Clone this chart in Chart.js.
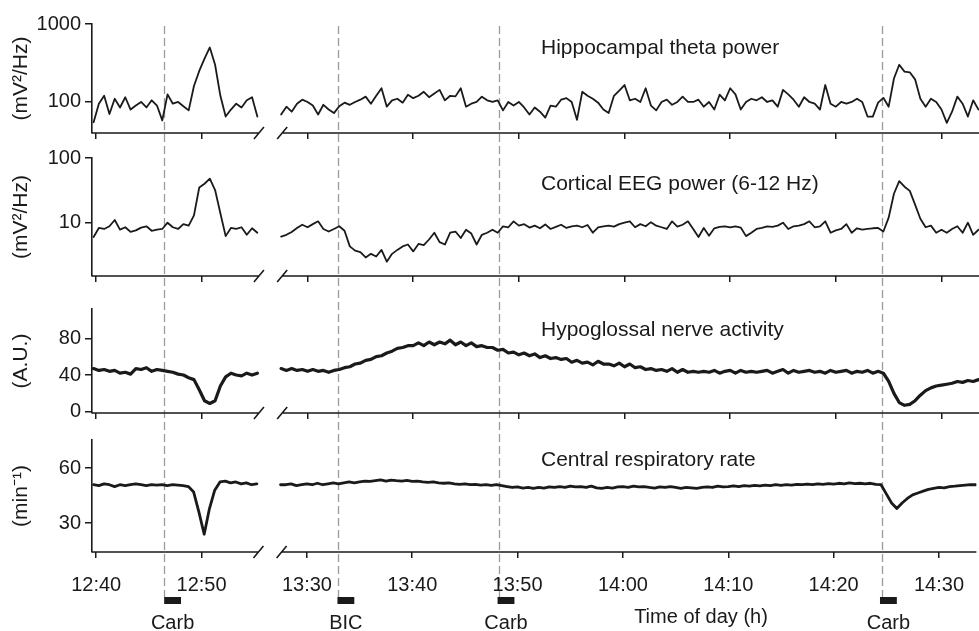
<!DOCTYPE html>
<html>
<head>
<meta charset="utf-8">
<script src="https://cdn.jsdelivr.net/npm/chart.js@4.4.1/dist/chart.umd.min.js"></script>
<style>
  body { margin: 0; background: #fff; }
  #wrap { position: relative; width: 979px; height: 631px; }
  #wrap canvas { position: absolute; left: 0; top: 0; }
</style>
</head>
<body>
<div id="wrap">
  <canvas id="theta" width="979" height="631"></canvas>
  <canvas id="eeg" width="979" height="631"></canvas>
  <canvas id="hypo" width="979" height="631"></canvas>
  <canvas id="resp" width="979" height="631"></canvas>
</div>
<script>
// ---- time base ----
const leftStart = '12:39:45';   // first sample of the first run
const rightStart = '13:27:30';  // first sample of the second run
const sampleStep = 0.5;         // minutes between samples
const breakShift = 30;          // minutes cut out of the axis
const axisStart = '12:39:36';
const axisEnd = '14:33:33';
const breakFrom = '12:55:24';
const breakTo = '13:27:36';
const timeTicks = ['12:40', '12:50', '13:30', '13:40', '13:50', '14:00', '14:10', '14:20', '14:30'];

// drug applications
const drugTimes = ['12:46:27', '13:32:54', '13:48:06', '14:24:24'];
const drugNames = ['Carb', 'BIC', 'Carb', 'Carb'];
const drugMinutes = 1.6;

// ---- series ----
const thetaLeft = [55, 95, 120, 70, 110, 85, 115, 80, 90, 100, 85, 105, 90, 58, 125, 95, 100, 88, 78, 160,
  250, 360, 500, 300, 120, 65, 80, 95, 85, 105, 115, 65];
const thetaRight = [69, 87, 75, 95, 107, 100, 90, 69, 92, 80,
  72, 88, 98, 92, 100, 107, 117, 95, 120, 150,
  87, 105, 110, 98, 124, 112, 120, 135, 115, 128,
  143, 105, 120, 118, 150, 87, 95, 100, 117, 105,
  100, 105, 78, 100, 90, 100, 85, 69, 85, 75,
  63, 90, 87, 107, 112, 100, 59, 135, 120, 110,
  98, 80, 72, 120, 140, 165, 105, 110, 100, 150,
  90, 78, 100, 107, 92, 100, 117, 100, 100, 107,
  87, 100, 80, 124, 105, 150, 125, 80, 100, 110,
  105, 115, 100, 105, 87, 143, 125, 107, 87, 115,
  100, 95, 80, 165, 95, 87, 100, 95, 100, 110,
  100, 65, 65, 98, 113, 87, 200, 300, 245, 240,
  195, 110, 87, 110, 100, 80, 54, 75, 117, 95,
  65, 105, 80];

const eegLeft = [6, 8.3, 8, 8.8, 11, 7.8, 8.5, 7.2, 7.6, 8.4, 8.8, 7.5, 7.8, 8, 10, 8.5, 8, 9.5, 9, 13,
  35, 40, 48, 32, 14, 6.2, 8.3, 8, 8.5, 6.5, 8.2, 7];
const eegRight = [6.1, 6.5, 7.2, 8.3, 9.3, 8.5, 9.5, 10.5, 8.0, 7.3,
  8, 8.8, 7.5, 4.3, 3.7, 3.5, 2.9, 3.3, 3.0, 3.8,
  2.5, 3.3, 3.8, 4.3, 4.6, 3.6, 4.7, 4.5, 5.5, 7.0,
  5.0, 4.6, 7.0, 7.3, 5.8, 7.8, 6.8, 4.6, 6.5, 7.0,
  7.8, 7.0, 8.8, 8.5, 10.5, 9.0, 9.5, 8.4, 9.0, 8.2,
  9.4, 8.0, 8.6, 9.3, 8.3, 8.8, 9.0, 8.5, 9.2, 7.0,
  8.5, 8.8, 9.0, 8.7, 9.5, 10.0, 10.5, 8.5, 9.5, 8.8,
  10.2, 9.0, 8.5, 8.0, 10.5, 8.7, 9.3, 10.5, 8.0, 6.0,
  8.3, 6.3, 8.2, 8.6, 8.8, 8.5, 8.8, 8.4, 6.2, 7.0,
  8.0, 8.3, 8.8, 8.6, 9.0, 10.0, 8.0, 8.8, 9.0, 9.5,
  10.5, 8.5, 8.8, 10.5, 7.0, 7.6, 8.0, 9.5, 7.0, 8.2,
  7.8, 8.0, 8.2, 8.3, 7.3, 12, 28, 44, 36, 31,
  19, 11.5, 8.5, 9.0, 7.0, 7.8, 7.0, 8.0, 8.8, 7.0,
  10.0, 6.5, 7.8];

const hypoLeft = [47, 45, 46, 44, 45, 42, 43, 41, 47, 46, 48, 44, 46, 45, 44, 43, 41, 40, 37, 35,
  24, 12, 9, 12, 28, 38, 42, 40, 39, 42, 40, 42];
const hypoRight = [47, 45, 47, 45, 46, 44, 46, 44, 45, 43,
  45, 46, 48, 49, 52, 53, 56, 57, 60, 61,
  64, 66, 69, 70, 72, 72, 75, 72, 76, 73,
  76, 74, 78, 73, 76, 72, 75, 71, 72, 70,
  70, 67, 68, 64, 65, 62, 64, 61, 63, 59,
  61, 58, 59, 57, 58, 54, 56, 53, 54, 51,
  55, 52, 52, 50, 53, 49, 52, 48, 49, 46,
  47, 45, 46, 44, 47, 43, 46, 43, 44, 43,
  44, 43, 45, 42, 44, 45, 42, 45, 43, 44,
  43, 44, 45, 42, 44, 46, 42, 45, 43, 44,
  45, 43, 44, 42, 45, 43, 44, 45, 42, 44,
  43, 45, 42, 44, 42, 33, 20, 10, 7, 8,
  12, 18, 23, 26, 28, 29, 30, 31, 33, 32,
  34, 33, 35];

const respLeft = [51, 50.5, 51.5, 51, 50, 51, 50.5, 51, 51.5, 51, 50.5, 51, 50.8, 51, 50.5, 51, 50.8, 50.5, 50, 47,
  36, 24, 38, 48, 52.5, 53, 52, 52.5, 51.5, 52, 51, 51.5];
const respRight = [51, 51, 51.5, 50.5, 51, 51.5, 51, 51.8, 51, 51.5, 52,
  51.5, 52, 52.5, 52, 52.5, 53, 52.8, 53.2, 53.6, 53,
  53.5, 53.2, 53, 53.4, 52.8, 53, 52.6, 52.3, 52.5, 52,
  51.8, 52, 51.5, 51.2, 51.5, 51, 51.2, 50.8, 51, 50.6,
  51, 50.5, 50, 49.5, 49.8, 49.2, 49.5, 49, 49.6, 49.2,
  49.8, 49.5, 50, 49.6, 50.2, 49.8, 50, 49.5, 50.2, 49.3,
  49, 49.5, 49.2, 49.8, 50, 49.6, 50.2, 49.8, 50, 49.5,
  49.2, 49.8, 49.5, 50, 49.5, 49, 49.6, 49.3, 49, 49.5,
  49.8, 49.5, 50.2, 49.8, 50, 50.4, 50, 50.5, 50.2, 50.6,
  50.4, 50.8, 50.5, 51, 50.6, 51, 50.8, 51.2, 51, 51.3,
  51, 51.5, 51.2, 51.6, 51.3, 51.8, 51.5, 52, 51.6, 51.8,
  51.5, 51.8, 51.2, 51,
  46, 41, 38, 41, 43.5, 45.5, 46.5, 47.5, 48.5, 49, 49.5, 49.3, 50, 50.2, 50.5, 50.8, 51, 51];

// ---- helpers ----
const ink = '#1a1a1a';
const fontFamily = "'Liberation Sans', Arial, Helvetica, sans-serif";
Chart.defaults.font.family = fontFamily;
Chart.defaults.color = ink;

function toMin(s) {
  const [h, m, sec] = s.split(':').map(Number);
  return h * 60 + m + (sec || 0) / 60;
}
// position on the broken axis: the second run is pulled left by breakShift
function axisPos(t) {
  return t >= toMin('13:00') ? t - breakShift : t;
}
function series(vals, start) {
  const t0 = toMin(start);
  return vals.map((v, i) => ({ x: axisPos(t0 + i * sampleStep), y: v }));
}

const panels = [
  { id: 'theta', title: 'Hippocampal theta power', unit: '(mV²/Hz)', type: 'logarithmic',
    min: 40, max: 1000, ticks: [100, 1000], left: thetaLeft, right: thetaRight, lw: 1.8,
    top: 24, bottom: 133, titleY: 54 },
  { id: 'eeg', title: 'Cortical EEG power (6-12 Hz)', unit: '(mV²/Hz)', type: 'logarithmic',
    min: 1.5, max: 100, ticks: [10, 100], left: eegLeft, right: eegRight, lw: 1.8,
    top: 158, bottom: 276, titleY: 190 },
  { id: 'hypo', title: 'Hypoglossal nerve activity', unit: '(A.U.)', type: 'linear',
    min: -1.4, max: 112, ticks: [0, 40, 80], left: hypoLeft, right: hypoRight, lw: 3.2,
    top: 309, bottom: 413, titleY: 336 },
  { id: 'resp', title: 'Central respiratory rate', unit: '(min⁻¹)', type: 'linear',
    min: 14.3, max: 75.4, ticks: [30, 60], left: respLeft, right: respRight, lw: 2.8,
    top: 440, bottom: 552, titleY: 466 }
];

// x axis line drawn in two pieces with break marks
const brokenAxis = {
  id: 'brokenAxis',
  afterDraw(chart) {
    const { ctx, chartArea, scales: { x } } = chart;
    const y = chartArea.bottom;
    const a = x.getPixelForValue(axisPos(toMin(breakFrom)));
    const b = x.getPixelForValue(axisPos(toMin(breakTo)));
    ctx.save();
    ctx.strokeStyle = ink;
    ctx.lineWidth = 1.6;
    ctx.beginPath();
    ctx.moveTo(chartArea.left, y); ctx.lineTo(a, y);
    ctx.moveTo(b, y); ctx.lineTo(chartArea.right, y);
    for (const p of [a, b]) { ctx.moveTo(p - 5, y + 6); ctx.lineTo(p + 5, y - 6); }
    ctx.stroke();
    ctx.restore();
  }
};

// dashed drug markers across all panels (drawn on the lowest canvas)
const drugLines = {
  id: 'drugLines',
  beforeDatasetsDraw(chart) {
    const { ctx, scales: { x } } = chart;
    ctx.save();
    ctx.strokeStyle = '#9a9a9a';
    ctx.lineWidth = 1.3;
    ctx.setLineDash([8, 4]);
    drugTimes.forEach(t => {
      const px = Math.round(x.getPixelForValue(axisPos(toMin(t)))) + 0.5;
      ctx.beginPath();
      ctx.moveTo(px, 26);
      ctx.lineTo(px, 597);
      ctx.stroke();
    });
    ctx.restore();
  }
};

// drug bars, drug names and the axis title under the bottom panel
const drugBars = {
  id: 'drugBars',
  afterDraw(chart) {
    const { ctx, scales: { x } } = chart;
    ctx.save();
    ctx.fillStyle = ink;
    ctx.font = '20px ' + fontFamily;
    ctx.textAlign = 'center';
    ctx.textBaseline = 'alphabetic';
    drugTimes.forEach((t, i) => {
      const t0 = axisPos(toMin(t));
      const x0 = x.getPixelForValue(t0);
      const x1 = x.getPixelForValue(t0 + drugMinutes);
      ctx.fillRect(x0, 597, x1 - x0, 7);
      ctx.fillText(drugNames[i], (x0 + x1) / 2, 629);
    });
    ctx.fillText('Time of day (h)', 701, 623);
    ctx.restore();
  }
};

function panelTitle(text, y) {
  return {
    id: 'panelTitle',
    afterDraw(chart) {
      const { ctx } = chart;
      ctx.save();
      ctx.fillStyle = ink;
      ctx.font = '21px ' + fontFamily;
      ctx.textAlign = 'left';
      ctx.textBaseline = 'alphabetic';
      ctx.fillText(text, 541, y);
      ctx.restore();
    }
  };
}

panels.forEach((p, k) => {
  const last = k === panels.length - 1;
  const xHeight = 40;
  const lineStyle = { borderColor: ink, borderWidth: p.lw, pointRadius: 0, tension: 0,
    borderJoinStyle: 'round', borderCapStyle: 'round', fill: false };
  const plugins = [brokenAxis, panelTitle(p.title, p.titleY)];
  if (k === 0) plugins.push(drugLines);
  if (last) plugins.push(drugBars);

  new Chart(document.getElementById(p.id), {
    type: 'line',
    data: {
      datasets: [
        Object.assign({ data: series(p.left, leftStart) }, lineStyle),
        Object.assign({ data: series(p.right, rightStart) }, lineStyle)
      ]
    },
    options: {
      responsive: false,
      animation: false,
      events: [],
      layout: {
        autoPadding: false,
        padding: { top: p.top, bottom: 631 - p.bottom - xHeight, left: 0, right: 0 }
      },
      plugins: { legend: { display: false }, tooltip: { enabled: false } },
      scales: {
        x: {
          type: 'linear',
          min: axisPos(toMin(axisStart)),
          max: axisPos(toMin(axisEnd)),
          afterBuildTicks: s => { s.ticks = timeTicks.map(t => ({ value: axisPos(toMin(t)) })); },
          afterFit: s => { s.height = xHeight; },
          border: { display: false },
          grid: { display: true, drawOnChartArea: false, drawTicks: true, tickLength: 6, color: ink, lineWidth: 1.5 },
          ticks: { display: last, autoSkip: false, maxRotation: 0, padding: 15, color: ink,
            font: { size: 20 }, callback: (v, i) => timeTicks[i] }
        },
        y: {
          type: p.type,
          min: p.min,
          max: p.max,
          afterBuildTicks: s => { s.ticks = p.ticks.map(v => ({ value: v })); },
          afterFit: s => { s.width = 92; },
          border: { display: true, color: ink, width: 1.6 },
          grid: { display: true, drawOnChartArea: false, drawTicks: true, tickLength: 7, color: ink, lineWidth: 1.5 },
          ticks: { padding: 4, color: ink, font: { size: 20 }, callback: v => String(v) },
          title: { display: true, text: p.unit, color: ink, font: { size: 21 }, padding: { top: 9, bottom: 0 } }
        }
      }
    },
    plugins: plugins
  });
});
</script>
</body>
</html>
